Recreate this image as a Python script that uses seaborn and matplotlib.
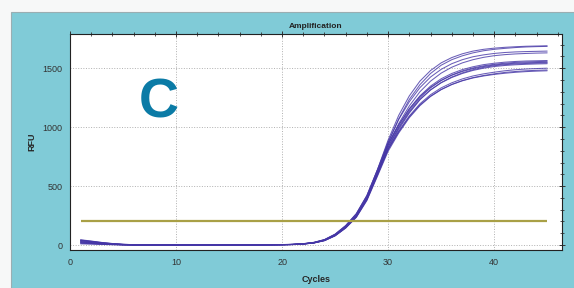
import numpy as np
import matplotlib
matplotlib.use("Agg")
import matplotlib.pyplot as plt
from matplotlib.patches import Rectangle
from matplotlib.ticker import MultipleLocator
import pandas as pd
import seaborn as sns

cycles = list(range(1, 46))
threshold = 200

# RFU per well (cycles 1..45)
w1 = [38, 28, 18, 10, 5, 2, 1, 0, -1, 0,
      0, 1, 0, -1, 0, 0, 1, 1, 2, 3,
      6, 11, 22, 45, 90, 162, 262, 415, 640, 890,
      1100, 1265, 1390, 1480, 1545, 1590, 1622, 1645, 1660, 1670,
      1677, 1682, 1686, 1688, 1690]
w2 = [20, 15, 10, 6, 3, 1, 0, 0, 0, 0,
      -1, 0, 0, 1, 0, 0, 1, 2, 2, 3,
      5, 10, 19, 40, 82, 150, 245, 395, 615, 865,
      1070, 1235, 1360, 1455, 1525, 1572, 1605, 1630, 1648, 1660,
      1668, 1675, 1680, 1683, 1685]
w3 = [45, 34, 22, 13, 7, 3, 1, 0, 0, 0,
      0, 0, 1, 0, 0, 1, 1, 2, 3, 4,
      6, 12, 23, 46, 92, 165, 265, 420, 640, 875,
      1065, 1215, 1335, 1425, 1490, 1538, 1572, 1597, 1613, 1625,
      1633, 1638, 1641, 1643, 1645]
w4 = [10, 8, 5, 3, 1, 0, 0, 0, 0, 0,
      0, 0, 0, 0, 1, 0, 1, 1, 2, 3,
      5, 9, 18, 38, 80, 148, 240, 390, 610, 850,
      1030, 1180, 1300, 1390, 1458, 1508, 1545, 1572, 1592, 1606,
      1615, 1621, 1625, 1628, 1630]
w5 = [30, 22, 14, 8, 4, 2, 0, 0, -1, 0,
      0, 0, 0, 1, 0, 0, 1, 2, 2, 3,
      5, 10, 20, 43, 86, 156, 252, 402, 620, 845,
      1015, 1155, 1265, 1348, 1410, 1455, 1488, 1512, 1530, 1542,
      1551, 1557, 1561, 1563, 1565]
w6 = [25, 18, 12, 7, 3, 1, 0, 0, 0, 0,
      1, 0, 0, 0, -1, 0, 0, 1, 2, 3,
      4, 9, 19, 40, 82, 150, 244, 392, 605, 830,
      1000, 1140, 1250, 1333, 1395, 1442, 1477, 1502, 1520, 1533,
      1542, 1549, 1553, 1556, 1558]
w7 = [40, 30, 19, 11, 5, 2, 1, 0, 0, 0,
      0, -1, 0, 0, 0, 1, 1, 2, 3, 4,
      6, 11, 22, 46, 92, 165, 266, 420, 638, 860,
      1020, 1155, 1260, 1338, 1397, 1440, 1472, 1496, 1514, 1527,
      1536, 1542, 1546, 1548, 1550]
w8 = [15, 11, 7, 4, 2, 1, 0, 0, 0, 0,
      0, 0, 1, 0, 0, 0, 1, 1, 2, 3,
      4, 8, 17, 37, 78, 145, 236, 382, 592, 815,
      980, 1120, 1232, 1315, 1378, 1425, 1460, 1487, 1507, 1521,
      1530, 1536, 1540, 1543, 1545]
w9 = [35, 26, 16, 9, 4, 2, 0, 0, 0, 0,
      0, 0, 0, -1, 0, 1, 1, 2, 2, 3,
      5, 10, 20, 42, 85, 154, 250, 398, 612, 830,
      992, 1128, 1236, 1316, 1376, 1421, 1455, 1481, 1500, 1514,
      1523, 1529, 1533, 1536, 1538]
w10 = [20, 14, 9, 5, 2, 1, 0, 0, 0, 0,
       0, 1, 0, 0, 0, 0, 1, 1, 2, 3,
       5, 9, 19, 40, 82, 150, 243, 388, 598, 810,
       965, 1095, 1198, 1275, 1333, 1376, 1409, 1434, 1452, 1466,
       1478, 1487, 1493, 1497, 1500]
w11 = [42, 32, 21, 12, 6, 3, 1, 0, 0, 0,
       0, 0, 0, 0, 1, 0, 0, 1, 2, 3,
       4, 8, 18, 38, 78, 144, 235, 378, 585, 795,
       950, 1080, 1182, 1260, 1318, 1362, 1395, 1420, 1438, 1452,
       1464, 1472, 1478, 1482, 1485]
w12 = [28, 20, 13, 7, 3, 1, 0, 0, 0, 0,
       0, 0, -1, 0, 0, 1, 1, 1, 2, 3,
       5, 10, 20, 42, 86, 155, 250, 396, 605, 810,
       960, 1088, 1188, 1263, 1319, 1361, 1393, 1417, 1434, 1447,
       1457, 1465, 1471, 1475, 1478]

wells = [w1, w2, w3, w4, w5, w6, w7, w8, w9, w10, w11, w12]

rows = []
for i, w in enumerate(wells):
    for c, v in zip(cycles, w):
        rows.append({'well': 'W%d' % (i + 1), 'Cycles': c, 'RFU': v})
df = pd.DataFrame(rows)

sns.set_style("white")
plt.rcParams['font.family'] = ['Liberation Sans', 'DejaVu Sans']

fig = plt.figure(figsize=(5.74, 2.88), dpi=100, facecolor='#f7f8f8')
# teal panel behind the plot
fig.patches.append(Rectangle((11 / 574, 0), 1, 276 / 288, transform=fig.transFigure,
                             facecolor='#80cbd7', edgecolor='#9aaeb2', lw=0.8, zorder=-10))

ax = fig.add_axes([70 / 574, 1 - 250 / 288, 492 / 574, 216 / 288])
ax.set_facecolor('white')

sns.lineplot(data=df, x='Cycles', y='RFU', units='well', estimator=None,
             color='#4536a6', lw=0.75, alpha=0.8, ax=ax, legend=False)
ax.hlines(threshold, cycles[0], cycles[-1], color='#a9a046', lw=1.6, zorder=3)

ax.set_xlim(0, 46.4)
ax.set_ylim(-42, 1790)
ax.xaxis.set_major_locator(MultipleLocator(10))
ax.xaxis.set_minor_locator(MultipleLocator(2))
ax.yaxis.set_major_locator(MultipleLocator(500))
ax.yaxis.set_minor_locator(MultipleLocator(100))
ax.grid(True, which='major', ls=':', lw=0.7, color='#b0b0b0')
ax.tick_params(which='both', direction='inout', top=True, right=True,
               labelsize=6.5, labelcolor='#333333', color='#333333')
ax.tick_params(which='major', length=4, width=0.7)
ax.tick_params(which='minor', length=2.5, width=0.6)
for s in ax.spines.values():
    s.set_color('#222222')
    s.set_linewidth(0.8)

ax.set_xlabel('Cycles', fontsize=6.5, fontweight='bold', labelpad=6)
ax.set_ylabel('RFU', fontsize=6.5, fontweight='bold', labelpad=4)
ax.set_title('Amplification', fontsize=6, fontweight='bold', pad=4, color='#222222')

ax.text(159 / 574, 1 - 103 / 288, 'C', transform=fig.transFigure, ha='center', va='center',
        fontsize=40, fontweight='bold', color='#0b7ba6')

fig.savefig('out.png', dpi=100, facecolor=fig.get_facecolor())
